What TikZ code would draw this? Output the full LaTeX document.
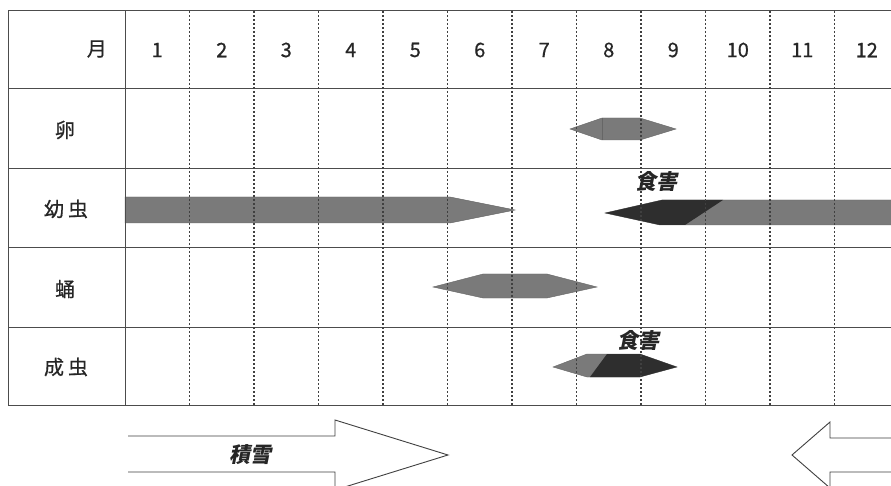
\documentclass[tikz,border=0pt]{standalone}
\usepackage{fontspec}
\setmainfont{Noto Sans CJK JP}
\newfontfamily\medfont{Noto Sans CJK JP}[FakeBold=0.6]
\newfontfamily\slbold{Noto Sans CJK JP}[FakeSlant=0.2]
\begin{document}
\begin{tikzpicture}[x=1pt,y=-1pt,
  gridline/.style={draw=black!70, line width=1pt},
  mdash/.style={draw=black!75, line width=1.1pt, dash pattern=on 2pt off 2pt},
  lab/.style={font=\medfont\fontsize{20}{20}\selectfont, inner sep=0pt, text=black!85},
  num/.style={font=\medfont\fontsize{20}{20}\selectfont, inner sep=0pt, text=black!85},
  bar/.style={fill=black!52, draw=black!60, line width=0.4pt},
  darkbar/.style={fill=black!82},
  ann/.style={font=\slbold\bfseries\fontsize{21}{21}\selectfont, inner sep=0pt, text=black!85},
  snow/.style={draw=black!75, fill=white, line width=0.9pt}]
\useasboundingbox (0,0) rectangle (891,486);
\clip (0,0) rectangle (891,486);
\fill[white] (0,0) rectangle (891,486);

% bars
\path[bar] (570,129) -- (602,118) -- (640,118) -- (676,129) -- (640,140) -- (602,140) -- cycle;
\draw[black!60, line width=0.5pt] (602,118) -- (602,140);
\path[bar] (125,197) -- (450,197) -- (515,210) -- (450,223) -- (125,223) -- cycle;
\path[bar] (605,213) -- (662,200) -- (900,200) -- (900,225) -- (660,225) -- cycle;
\path[darkbar] (605,213) -- (662,200) -- (723,200) -- (685,225) -- (660,225) -- cycle;
\path[bar] (433,287) -- (483,274) -- (547,274) -- (597,287) -- (547,298) -- (483,298) -- cycle;
\path[bar] (553,367) -- (587,354) -- (640,354) -- (677,367) -- (640,377) -- (587,377) -- cycle;
\path[darkbar] (607,354) -- (640,354) -- (677,367) -- (640,377) -- (590,377) -- cycle;

% grid
\foreach \y in {11,89,169,248,327,405} \draw[gridline] (8,\y) -- (891,\y);
\draw[gridline] (8,11) -- (8,405);
\draw[gridline] (125,11) -- (125,405);
\foreach \k in {1,...,11} \draw[mdash] ({125+64.5*\k},11) -- ({125+64.5*\k},405);

% header
\node[lab, anchor=east] (mon) at (107,49) {月};
\foreach \m in {1,...,12} \node[num] (m\m) at ({125+64.5*(\m-0.5)},50) {\m};

% row labels
\node[lab] (egg) at (65,130) {卵};
\node[lab] (larva) at (66,209) {幼\hspace{4pt}虫};
\node[lab] (pupa) at (65,289) {蛹};
\node[lab] (adult) at (66,367) {成\hspace{4pt}虫};

% annotations
\node[ann] (dmg1) at (656,181) {食害};
\node[ann] (dmg2) at (638,340) {食害};

% snow arrows
\draw[snow] (128,436) -- (335,436) -- (335,420) -- (448,455) -- (335,490) -- (335,472) -- (128,472);
\draw[snow] (895,438) -- (830,438) -- (830,422) -- (792,455) -- (830,488) -- (830,472) -- (895,472);
\node[ann] (snowlab) at (250,455) {積雪};
\end{tikzpicture}
\end{document}
